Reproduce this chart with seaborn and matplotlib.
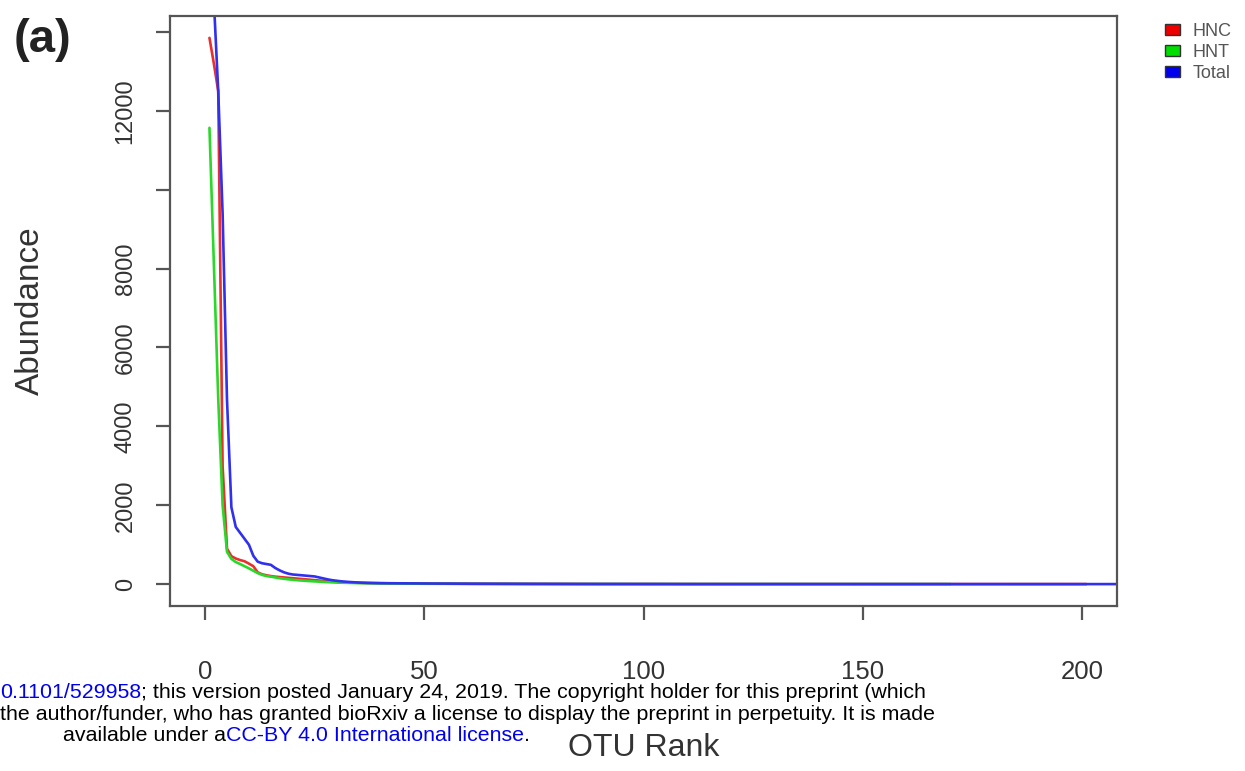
import matplotlib
matplotlib.use("Agg")
import matplotlib.pyplot as plt
from matplotlib.patches import Patch
import seaborn as sns
import pandas as pd

# ---------------- data ----------------
HNC = [
    13850, 13200, 12500, 3000, 900, 710, 650, 610, 580, 520,
    455, 300, 250, 225, 205, 190, 180, 170, 160, 150,
    140, 130, 120, 110, 100, 92, 84, 75, 65, 56,
    50, 45, 41, 37, 34, 31, 29, 27, 25, 23,
    22, 21, 20, 19, 18, 17, 16, 16, 15, 14,
    14, 13, 13, 12, 12, 11, 11, 10, 10, 10,
    9, 9, 9, 8, 8, 8, 7, 7, 7, 7,
    6, 6, 6, 6, 5, 5, 5, 5, 5, 4,
    4, 4, 4, 4, 4, 4, 3, 3, 3, 3,
    3, 3, 3, 3, 3, 3, 2, 2, 2, 2,
    2, 2, 2, 2, 2, 2, 2, 2, 2, 2,
    2, 2, 2, 2, 2, 2, 1, 1, 1, 1,
    1, 1, 1, 1, 1, 1, 1, 1, 1, 1,
    1, 1, 1, 1, 1, 1, 1, 1, 1, 1,
    1, 1, 1, 1, 1, 1, 1, 1, 1, 1,
    1, 1, 1, 1, 1, 1, 1, 1, 1, 1,
    1, 1, 1, 1, 1, 1, 1, 1, 1, 1,
    1, 1, 1, 1, 1, 1, 1, 1, 1, 1,
    1, 1, 1, 1, 1, 1, 1, 1, 1, 1,
    1, 1, 1, 1, 1, 1, 1, 1, 1, 1,
    1,
]

HNT = [
    11570, 8100, 4700, 2000, 820, 640, 560, 510, 455, 400,
    340, 280, 235, 205, 190, 170, 150, 135, 122, 110,
    100, 91, 83, 76, 69, 62, 56, 50, 45, 40,
    36, 33, 30, 28, 26, 24, 22, 20, 19, 18,
    17, 16, 15, 14, 13, 12, 12, 11, 11, 10,
    10, 9, 9, 8, 8, 8, 7, 7, 7, 6,
    6, 6, 6, 5, 5, 5, 5, 4, 4, 4,
    4, 4, 3, 3, 3, 3, 3, 3, 3, 2,
    2, 2, 2, 2, 2, 2, 2, 2, 2, 2,
    2, 2, 2, 2, 2, 2, 2, 2, 2, 2,
    2, 2, 2, 2, 2, 1, 1, 1, 1, 1,
    1, 1, 1, 1, 1, 1, 1, 1, 1, 1,
    1, 1, 1, 1, 1, 1, 1, 1, 1, 1,
    1, 1, 1, 1, 1, 1, 1, 1, 1, 1,
    1, 1, 1, 1, 1, 1, 1, 1, 1, 1,
    1, 1, 1, 1, 1, 1, 1, 1, 1, 1,
    1, 1, 1, 1, 1, 1, 1, 1, 1, 1,
]

TOTAL = [
    25420, 14800, 12500, 9400, 4680, 1950, 1450, 1300, 1150, 1000,
    720, 570, 530, 510, 490, 410, 350, 300, 265, 245,
    235, 225, 215, 205, 195, 170, 145, 120, 100, 85,
    72, 62, 54, 47, 41, 36, 32, 29, 27, 25,
    24, 23, 22, 21, 20, 19, 19, 18, 17, 16,
    16, 15, 15, 14, 14, 13, 13, 12, 12, 11,
    11, 11, 10, 10, 10, 9, 9, 9, 8, 8,
    8, 8, 7, 7, 7, 7, 6, 6, 6, 6,
    6, 5, 5, 5, 5, 5, 5, 4, 4, 4,
    4, 4, 4, 4, 3, 3, 3, 3, 3, 3,
    3, 3, 3, 3, 3, 3, 2, 2, 2, 2,
    2, 2, 2, 2, 2, 2, 2, 2, 2, 2,
    2, 2, 2, 2, 2, 2, 2, 2, 2, 2,
    2, 2, 2, 2, 2, 2, 2, 2, 2, 2,
    1, 1, 1, 1, 1, 1, 1, 1, 1, 1,
    1, 1, 1, 1, 1, 1, 1, 1, 1, 1,
    1, 1, 1, 1, 1, 1, 1, 1, 1, 1,
    1, 1, 1, 1, 1, 1, 1, 1, 1, 1,
    1, 1, 1, 1, 1, 1, 1, 1, 1, 1,
    1, 1, 1, 1, 1, 1, 1, 1, 1, 1,
    1, 1, 1, 1, 1, 1, 1, 1, 1, 1,
    1, 1, 1, 1, 1, 1, 1, 1, 1, 1,
    1, 1, 1, 1, 1, 1, 1, 1, 1, 1,
]

GROUPS = ["HNC", "HNT", "Total"]
COLORS = {"HNC": "#e83030", "HNT": "#2ad82a", "Total": "#3030ee"}
LEGEND_FILL = {"HNC": "#ee0000", "HNT": "#00dd00", "Total": "#0000ee"}
X_RANGE = [0, 200]
X_TICKS = [0, 50, 100, 150, 200]
Y_TICKS = [0, 2000, 4000, 6000, 8000, 10000, 12000, 14000]
Y_TICK_LABELS = ["0", "2000", "4000", "6000", "8000", "", "12000", ""]

# long-form frame
rows = []
for name, vals in zip(GROUPS, [HNC, HNT, TOTAL]):
    for i, v in enumerate(vals):
        rows.append({"rank": i + 1, "abundance": v, "group": name})
df = pd.DataFrame(rows)

# ---------------- figure ----------------
sns.set_style("white")
plt.rcParams["font.family"] = ["Liberation Sans", "DejaVu Sans"]

W, H = 1245, 771
fig = plt.figure(figsize=(W / 100, H / 100), dpi=100)
ax = fig.add_axes([170 / W, 1 - 606 / H, (1117 - 170) / W, (606 - 16) / H])

sns.lineplot(data=df, x="rank", y="abundance", hue="group", hue_order=GROUPS,
             palette=COLORS, estimator=None, sort=False, legend=False,
             linewidth=1.9, ax=ax)

# R-style axis ranges (4% expansion)
span = X_RANGE[1] - X_RANGE[0]
ax.set_xlim(X_RANGE[0] - 0.04 * span, X_RANGE[1] + 0.04 * span)
ymax = max(HNC)
ax.set_ylim(-0.04 * ymax, 1.04 * ymax)

for s in ax.spines.values():
    s.set_color("#555555")
    s.set_linewidth(1.6)

ax.set_xticks(X_TICKS)
ax.set_xticklabels([str(t) for t in X_TICKS])
ax.set_yticks(Y_TICKS)
ax.set_yticklabels(Y_TICK_LABELS, rotation=90, va="center")
ax.tick_params(axis="both", direction="out", length=10, width=1.6,
               color="#555555", labelcolor="#333333",
               bottom=True, left=True)
ax.tick_params(axis="x", pad=29, labelsize=18.5)
ax.tick_params(axis="y", pad=14, labelsize=17)

ax.set_xlabel("OTU Rank", fontsize=23, color="#333333")
ax.set_ylabel("Abundance", fontsize=24, color="#333333")
ax.xaxis.set_label_coords(0.5, -0.215)
ax.yaxis.set_label_coords((46 - 170) / 947, 0.5)

# panel tag
fig.text(14 / W, 1 - 40 / H, "(a)", fontsize=34, fontweight="bold",
         ha="left", va="center", color="#222222")

# legend outside plot at top right
handles = [Patch(facecolor=LEGEND_FILL[g], edgecolor="#333333", linewidth=1.0)
           for g in GROUPS]
leg = fig.legend(handles, GROUPS, loc="upper left",
                 bbox_to_anchor=(1165 / W, 1 - 23 / H), frameon=False,
                 fontsize=13, handlelength=0.85, handleheight=0.6,
                 handletextpad=0.7, labelspacing=0.22, borderpad=0,
                 borderaxespad=0)
for t in leg.get_texts():
    t.set_color("#555555")

# bioRxiv footer
fs = 15.4
blue = "#0000ee"
t1 = fig.text(0, 1 - 698 / H, "0.1101/529958", fontsize=fs, color=blue,
              ha="left", va="baseline")
fig.canvas.draw()
r = fig.canvas.get_renderer()
bb = t1.get_window_extent(r)
fig.text(bb.x1 / W, 1 - 698 / H,
         "; this version posted January 24, 2019. The copyright holder for this preprint (which",
         fontsize=fs, color="black", ha="left", va="baseline")
fig.text(0, 1 - 720 / H,
         "the author/funder, who has granted bioRxiv a license to display the preprint in perpetuity. It is made",
         fontsize=fs, color="black", ha="left", va="baseline")
t3 = fig.text(63 / W, 1 - 741 / H, "available under a", fontsize=fs,
              color="black", ha="left", va="baseline")
fig.canvas.draw()
bb3 = t3.get_window_extent(r)
t4 = fig.text(bb3.x1 / W, 1 - 741 / H, "CC-BY 4.0 International license",
              fontsize=fs, color=blue, ha="left", va="baseline")
fig.canvas.draw()
bb4 = t4.get_window_extent(r)
fig.text(bb4.x1 / W, 1 - 741 / H, ".", fontsize=fs, color="black",
         ha="left", va="baseline")

fig.savefig("out.png", dpi=100)
